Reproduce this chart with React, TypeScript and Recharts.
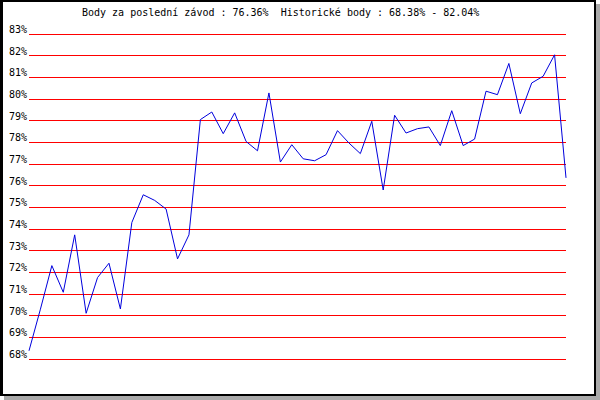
import { LineChart, Line, XAxis, YAxis, CartesianGrid } from 'recharts';

const TITLE = 'Body za poslední závod : 76.36%  Historické body : 68.38% - 82.04%';

// one score per race, oldest first
const scores = [
  68.38, 70.3, 72.31, 71.08, 73.73, 70.11, 71.76, 72.42, 70.31, 74.3,
  75.58, 75.32, 74.92, 72.62, 73.73, 79.05, 79.4, 78.4, 79.36, 78.04,
  77.61, 80.28, 77.09, 77.89, 77.24, 77.15, 77.43, 78.54, 77.97, 77.48,
  78.97, 75.8, 79.25, 78.43, 78.63, 78.71, 77.85, 79.46, 77.85, 78.15,
  80.36, 80.2, 81.64, 79.32, 80.74, 81.05, 82.04, 76.36,
];

const yTicks = [68, 69, 70, 71, 72, 73, 74, 75, 76, 77, 78, 79, 80, 81, 82, 83];

const MONO = '"DejaVu Sans Mono", monospace';

function PercentTick(props: any) {
  const { y, payload } = props;
  return (
    <text x={27} y={y - 1} textAnchor="end" fontSize={10} fontFamily={MONO} fill="#000">
      {`${payload.value}%`}
    </text>
  );
}

export default function App() {
  const data = scores.map((score, idx) => ({ idx, score }));

  return (
    <div style={{ position: 'absolute', left: 0, top: 0, width: 600, height: 400, background: '#fff' }}>
      <div
        style={{
          position: 'absolute',
          left: 0,
          top: 0,
          width: 591,
          height: 392,
          borderStyle: 'solid',
          borderColor: '#000',
          borderWidth: '2px 2px 2px 3px',
          boxShadow: '4px 4px 0 #aaaaaa',
          background: '#fff',
        }}
      />
      <div
        style={{
          position: 'absolute',
          left: 82,
          top: 7,
          fontFamily: MONO,
          fontSize: 10,
          lineHeight: '12px',
          whiteSpace: 'pre',
          color: '#000',
        }}
      >
        {TITLE}
      </div>
      <div style={{ position: 'absolute', left: 0, top: 0 }}>
        <LineChart width={600} height={400} data={data} margin={{ top: 34, right: 34, bottom: 41, left: 0 }}>
          <CartesianGrid vertical={false} stroke="#ff0000" strokeWidth={1} shapeRendering="crispEdges" />
          <XAxis dataKey="idx" type="number" domain={[0, scores.length - 1]} hide />
          <YAxis
            width={29}
            domain={[68, 83]}
            ticks={yTicks}
            interval={0}
            axisLine={false}
            tickLine={false}
            tick={<PercentTick />}
          />
          <Line
            type="linear"
            dataKey="score"
            stroke="#0000dd"
            strokeWidth={1}
            dot={false}
            isAnimationActive={false}
          />
        </LineChart>
      </div>
    </div>
  );
}
